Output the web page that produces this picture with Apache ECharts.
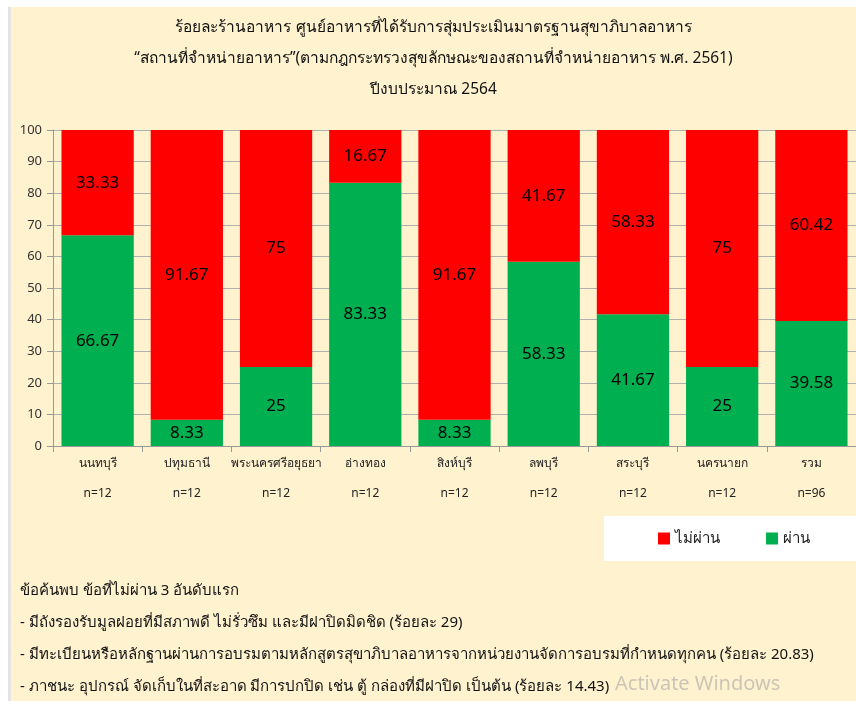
<!DOCTYPE html>
<html>
<head>
<meta charset="utf-8">
<script src="https://cdn.jsdelivr.net/npm/echarts@6/dist/echarts.min.js"></script>
<style>
  html, body { margin: 0; padding: 0; background: #fff; }
  #chart {
    position: absolute; left: 8px; top: 7px;
    width: 845px; height: 694px;
    border-left: 3px solid #e4e4e4;
    background: #fff2cf;
  }
</style>
</head>
<body>
<div id="chart"></div>
<script>
const provinces = ['นนทบุรี', 'ปทุมธานี', 'พระนครศรีอยุธยา', 'อ่างทอง', 'สิงห์บุรี', 'ลพบุรี', 'สระบุรี', 'นครนายก', 'รวม'];
const sampleSizes = [12, 12, 12, 12, 12, 12, 12, 12, 96];
const passed = [66.67, 8.33, 25, 83.33, 8.33, 58.33, 41.67, 25, 39.58];
const failed = [33.33, 91.67, 75, 16.67, 91.67, 41.67, 58.33, 75, 60.42];

const titleLines = [
  'ร้อยละร้านอาหาร ศูนย์อาหารที่ได้รับการสุ่มประเมินมาตรฐานสุขาภิบาลอาหาร',
  '“สถานที่จำหน่ายอาหาร”(ตามกฎกระทรวงสุขลักษณะของสถานที่จำหน่ายอาหาร พ.ศ. 2561)',
  'ปีงบประมาณ 2564'
];
const findings = [
  'ข้อค้นพบ ข้อที่ไม่ผ่าน 3 อันดับแรก',
  '- มีถังรองรับมูลฝอยที่มีสภาพดี ไม่รั่วซึม และมีฝาปิดมิดชิด (ร้อยละ 29)',
  '- มีทะเบียนหรือหลักฐานผ่านการอบรมตามหลักสูตรสุขาภิบาลอาหารจากหน่วยงานจัดการอบรมที่กำหนดทุกคน (ร้อยละ 20.83)',
  '- ภาชนะ อุปกรณ์ จัดเก็บในที่สะอาด มีการปกปิด เช่น ตู้ กล่องที่มีฝาปิด เป็นต้น (ร้อยละ 14.43)'
];

const font = 'Tahoma, "Noto Sans", "DejaVu Sans", sans-serif';
const chart = echarts.init(document.getElementById('chart'));

const barLabel = {
  show: true,
  position: 'inside',
  color: '#000',
  fontSize: 17,
  fontFamily: font
};

chart.setOption({
  animation: false,
  textStyle: { fontFamily: font },
  title: {
    text: titleLines.join('\n'),
    left: 'center',
    top: 0,
    textStyle: { fontSize: 15.5, fontWeight: 'normal', color: '#111', lineHeight: 31 }
  },
  legend: {
    data: ['ไม่ผ่าน', 'ผ่าน'],
    right: 0,
    top: 509,
    itemWidth: 12,
    itemHeight: 12,
    itemGap: 46,
    backgroundColor: '#fff',
    padding: [15, 46, 15, 54],
    icon: 'rect',
    textStyle: { fontSize: 15, color: '#222' }
  },
  grid: { left: 42, right: -8, top: 123, bottom: 255 },
  xAxis: {
    type: 'category',
    data: provinces,
    axisLine: { lineStyle: { color: '#999' } },
    axisTick: { show: true, length: 6, lineStyle: { color: '#999' } },
    axisLabel: {
      interval: 0,
      color: '#222',
      fontSize: 12,
      lineHeight: 30,
      margin: 3,
      formatter: (v, i) => v + '\n' + 'n=' + sampleSizes[i]
    }
  },
  yAxis: {
    type: 'value',
    min: 0,
    max: 100,
    interval: 10,
    axisLine: { show: true, lineStyle: { color: '#999' } },
    axisTick: { show: true, length: 6, lineStyle: { color: '#999' } },
    axisLabel: { color: '#333', fontSize: 13, margin: 11 },
    splitLine: { lineStyle: { color: '#b0b0b0' } }
  },
  series: [
    {
      name: 'ผ่าน',
      type: 'bar',
      stack: 'total',
      barCategoryGap: '19%',
      data: passed,
      itemStyle: { color: '#00b050' },
      label: barLabel
    },
    {
      name: 'ไม่ผ่าน',
      type: 'bar',
      stack: 'total',
      data: failed,
      itemStyle: { color: '#ff0000' },
      label: barLabel
    }
  ],
  graphic: [
    {
      type: 'text',
      left: 9,
      top: 568,
      style: {
        text: findings.join('\n'),
        font: '15px ' + font,
        fill: '#111',
        lineHeight: 32
      }
    },
    {
      type: 'text',
      left: 604,
      top: 667,
      style: {
        text: 'Activate Windows',
        font: '20px "Noto Sans", sans-serif',
        fill: 'rgba(160,160,160,0.55)'
      }
    }
  ]
});
</script>
</body>
</html>
